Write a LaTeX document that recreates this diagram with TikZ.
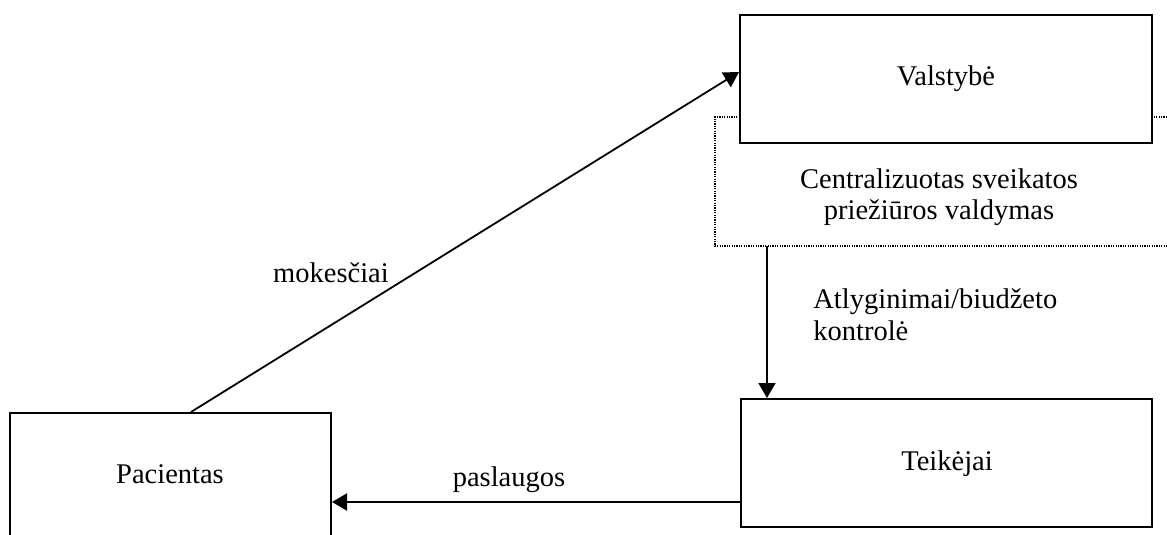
\documentclass[tikz,border=0pt]{standalone}
\usepackage{fontspec}
\setmainfont{Liberation Serif}
\usetikzlibrary{arrows.meta}
\begin{document}
\begin{tikzpicture}[x=0.5pt,y=-0.5pt,
  every node/.style={font=\fontsize{14.25}{16}\selectfont},
  party/.style={draw,line width=1pt,fill=white,rectangle,inner sep=0pt},
  label/.style={inner sep=0pt,anchor=base},
  flow/.style={line width=0.9pt,-{Triangle[length=7.5pt,width=8.5pt]}},
  zone/.style={line width=0.6pt,dash pattern=on 0.6pt off 0.6pt}]
\useasboundingbox (0,0) rectangle (1167,535);

% dotted region of centralised management
\draw[zone] (1167,117) -- (715,117) -- (715,246) -- (1167,246);
\coordinate (zb) at (767,246);
\node[label,align=center] (ctl) at (939,220)
  {Centralizuotas sveikatos\\priežiūros valdymas};

% parties
\node[party,minimum width=206pt,minimum height=64pt] (val) at (946,79) {};
\node[label] (valt) at (946,86) {Valstybė};
\node[party,minimum width=205.5pt,minimum height=64pt] (teik) at (946.5,463) {};
\node[label] (teikt) at (947,470) {Teikėjai};
\node[party,minimum width=160.5pt,minimum height=64pt] (pac) at (170.5,477) {};
\node[label] (pact) at (170,483) {Pacientas};

% flows
\draw[flow] ([xshift=10.25pt]pac.north) -- ([yshift=3.5pt]val.west);
\node[label] (mok) at (331,282) {mokesčiai};

\draw[flow] (zb) -- (zb |- teik.north);
\node[label,align=left,anchor=base west] (atl) at (813,340)
  {Atlyginimai/biudžeto\\kontrolė};

\coordinate (hy) at (0,502);
\draw[flow] (teik.west |- hy) -- (pac.east |- hy);
\node[label] (pas) at (509,486) {paslaugos};
\end{tikzpicture}
\end{document}
